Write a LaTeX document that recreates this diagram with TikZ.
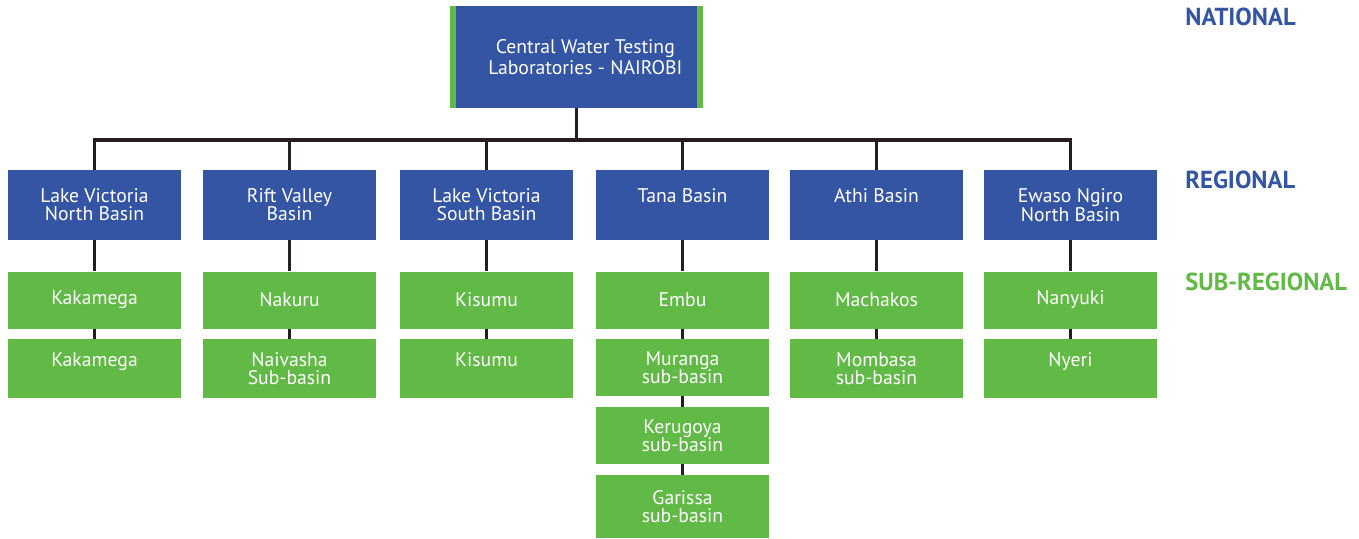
\documentclass[tikz,border=0pt]{standalone}
\usepackage{fontspec}
\setmainfont{PT Sans}
\definecolor{nblue}{HTML}{3454A4}
\definecolor{ngreen}{HTML}{62BA46}
\definecolor{nline}{HTML}{231F20}
\begin{document}
\begin{tikzpicture}[x=0.02cm, y=-0.02cm,
    every node/.style={rectangle, inner sep=0pt, text=white, align=center,
        font=\fontsize{11.2pt}{10.4pt}\selectfont},
    regbox/.style={fill=nblue, minimum width=3.46cm, minimum height=1.4cm},
    subbox/.style={fill=ngreen, minimum width=3.46cm, minimum height=1.14cm},
    level/.style={anchor=west, font=\fontsize{14pt}{14pt}\selectfont\bfseries},
    conn/.style={line width=1.8pt, nline}]
    \useasboundingbox (0,0) rectangle (1359,538);
    % national
    \node[fill=nblue, minimum width=5.06cm, minimum height=2.04cm,
        font=\fontsize{11.2pt}{12pt}\selectfont] (top) at (576.5,57)
        {\hspace{10pt}Central Water Testing\\ \hspace{10pt}Laboratories - NAIROBI};
    \fill[ngreen] (top.south west) rectangle ([xshift=0.12cm]top.north west);
    \fill[ngreen] (top.south east) rectangle ([xshift=-0.12cm]top.north east);
    % regional
    \node[regbox] (b1) at (94.5,205) {Lake Victoria\\North Basin};
    \node[regbox] (b2) at (289.5,205) {Rift Valley\\Basin};
    \node[regbox] (b3) at (486.5,205) {Lake Victoria\\South Basin};
    \node[regbox] (b4) at (682.5,205) {Tana Basin\\~};
    \node[regbox] (b5) at (876.5,205) {Athi Basin\\~};
    \node[regbox] (b6) at (1070.5,205) {Ewaso Ngiro\\North Basin};
    % sub-regional
    \node[subbox] (s1a) at (94.5,300) {Kakamega};
    \node[subbox, minimum height=1.18cm] (s1b) at (94.5,368.5) {Kakamega\\~};
    \node[subbox] (s2a) at (289.5,300) {Nakuru};
    \node[subbox, minimum height=1.18cm] (s2b) at (289.5,368.5) {Naivasha\\Sub-basin};
    \node[subbox] (s3a) at (486.5,300) {Kisumu};
    \node[subbox, minimum height=1.18cm] (s3b) at (486.5,368.5) {Kisumu\\~};
    \node[subbox] (s4a) at (682.5,300) {Embu};
    \node[subbox] (s4b) at (682.5,367.5) {Muranga\\sub-basin};
    \node[subbox] (s4c) at (682.5,435.5) {Kerugoya\\sub-basin};
    \node[subbox, minimum height=1.26cm] (s4d) at (682.5,506.5) {Garissa\\sub-basin};
    \node[subbox] (s5a) at (876.5,300) {Machakos};
    \node[subbox, minimum height=1.18cm] (s5b) at (876.5,368.5) {Mombasa\\sub-basin};
    \node[subbox] (s6a) at (1070.5,300) {Nanyuki};
    \node[subbox, minimum height=1.18cm] (s6b) at (1070.5,368.5) {Nyeri\\~};
    % levels
    \node[level, text=nblue] (lnat) at (1185,17) {NATIONAL};
    \node[level, text=nblue] (lreg) at (1185,180) {REGIONAL};
    \node[level, text=ngreen] (lsub) at (1185,282) {SUB-REGIONAL};
    % connectors
    \coordinate (bus) at (585,140);
    \draw[conn] (top.south) -- (top.south |- bus);
    \draw[conn] (b1.north) -- (b1.north |- bus) -- (b6.north |- bus) -- (b6.north);
    \draw[conn] (b2.north) -- (b2.north |- bus);
    \draw[conn] (b3.north) -- (b3.north |- bus);
    \draw[conn] (b4.north) -- (b4.north |- bus);
    \draw[conn] (b5.north) -- (b5.north |- bus);
    \draw[conn] (b1) -- (s1a) -- (s1b);
    \draw[conn] (b2) -- (s2a) -- (s2b);
    \draw[conn] (b3) -- (s3a) -- (s3b);
    \draw[conn] (b4) -- (s4a) -- (s4b) -- (s4c) -- (s4d);
    \draw[conn] (b5) -- (s5a) -- (s5b);
    \draw[conn] (b6) -- (s6a) -- (s6b);
\end{tikzpicture}
\end{document}
